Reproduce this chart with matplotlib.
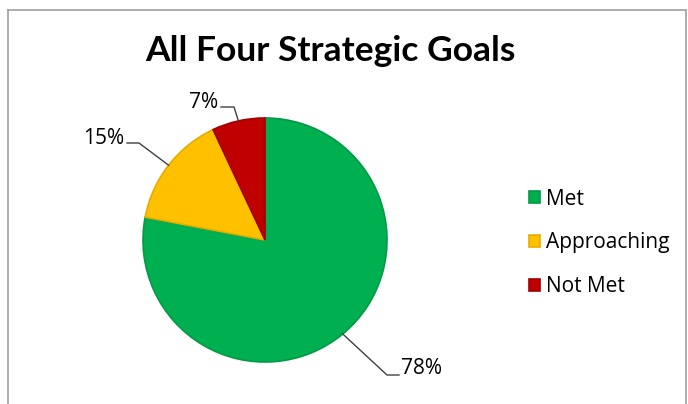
import numpy as np
import matplotlib
matplotlib.use("Agg")
from matplotlib import pyplot as plt
from matplotlib.lines import Line2D

plt.rcParams['font.family'] = ['Open Sans', 'DejaVu Sans']

# data
categories = ['Met', 'Approaching', 'Not Met']
shares = [78, 15, 7]
labels = ['78%', '15%', '7%']
colors = ['#00B050', '#FFC000', '#C00000']
edge_colors = ['#019a47', '#e6ad00', '#a30000']

W, H = 688, 404
fig = plt.figure(figsize=(W / 100, H / 100), dpi=100)

# frame of the chart area
fig.add_artist(Line2D([8 / W, 8 / W], [0, 1 - 10 / H], color='#a0a0a0', lw=1.2))
fig.add_artist(Line2D([8 / W, 686 / W], [1 - 10 / H, 1 - 10 / H], color='#a0a0a0', lw=1.2))
fig.add_artist(Line2D([686 / W, 686 / W], [0, 1 - 10 / H], color='#a0a0a0', lw=1.2))

fig.text(330 / W, 1 - 51 / H, 'All Four Strategic Goals', ha='center', va='center',
         fontsize=25.5, fontweight='bold', color='black', family=['Lato', 'DejaVu Sans'])

# pie axes: center (265, 240) px, radius 122 px
cx, cy, r = 265, 240, 122
ax = fig.add_axes([(cx - r) / W, (H - cy - r) / H, 2 * r / W, 2 * r / H])
wedges, _ = ax.pie(shares, colors=colors, startangle=90, counterclock=False,
                   wedgeprops=dict(linewidth=1.2))
for w, ec in zip(wedges, edge_colors):
    w.set_edgecolor(ec)
ax.set_xlim(-1, 1)
ax.set_ylim(-1, 1)
ax.set_aspect('equal')
ax.axis('off')

# label layout (px): elbow point, line end, text position, alignment
layout = {
    '78%': ((387, 375), (399, 375), (401, 368), 'left'),
    '15%': ((139, 143), (127, 143), (124, 138), 'right'),
    '7%': ((234, 107), (221, 107), (218, 102), 'right'),
}

def px(p):
    return ((p[0] - cx) / r, (cy - p[1]) / r)

for w, lab in zip(wedges, labels):
    ang = np.deg2rad((w.theta1 + w.theta2) / 2)
    anchor = (np.cos(ang), np.sin(ang))
    elbow, end, tpos, ha = layout[lab]
    e, n, t = px(elbow), px(end), px(tpos)
    ax.plot([anchor[0], e[0], n[0]], [anchor[1], e[1], n[1]], color='#404040', lw=1.0,
            clip_on=False)
    ax.text(t[0], t[1], lab, ha=ha, va='center', fontsize=15, color='black', clip_on=False)

leg = fig.legend(wedges, categories, loc='center left', bbox_to_anchor=(521 / W, 1 - 243 / H),
                 frameon=False, fontsize=15, handlelength=0.5, handleheight=0.5,
                 handletextpad=0.3, labelspacing=1.1, borderaxespad=0)

fig.savefig('out.png', dpi=100)
